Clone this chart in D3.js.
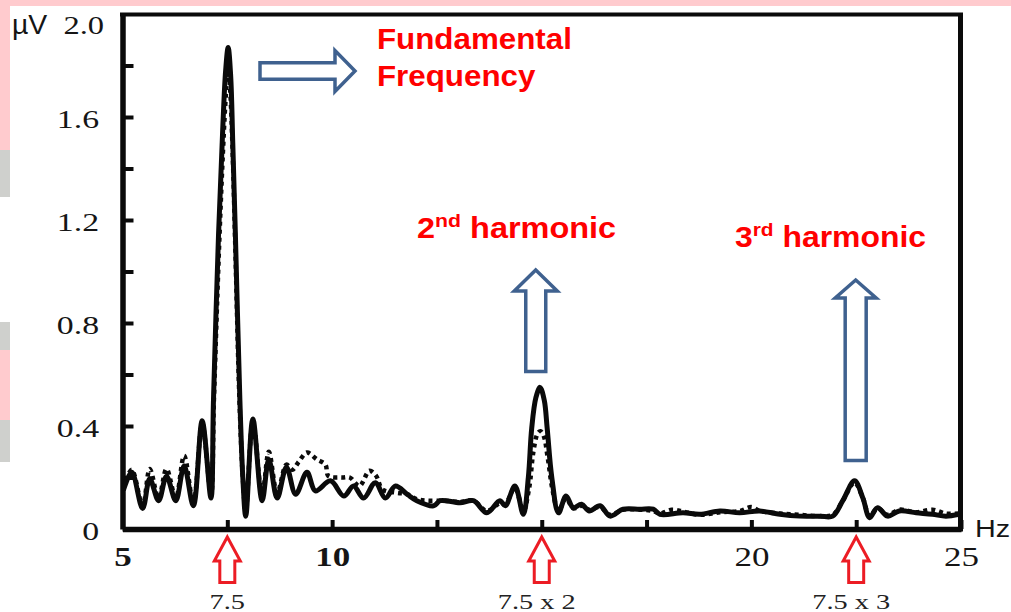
<!DOCTYPE html>
<html>
<head>
<meta charset="utf-8">
<script src="https://cdn.jsdelivr.net/npm/d3@7"></script>
<style>
body{margin:0;background:#fff;}
svg{display:block;}
</style>
</head>
<body>
<svg id="chart" width="1011" height="612"></svg>
<script>
// solid trace (Hz / µV)
var solidHz = [5.02, 5.22, 5.48, 5.65, 5.86, 6.05, 6.27, 6.47, 6.69, 6.90, 7.11, 7.17, 7.29, 7.39, 7.46, 7.52, 7.58, 7.63, 7.69, 7.80, 7.87, 7.94, 8.11, 8.33, 8.49, 8.69, 8.91, 9.13, 9.40, 9.60, 9.96, 10.28, 10.51, 10.75, 11.03, 11.27, 11.51, 11.79, 12.02, 12.42, 12.58, 13.05, 13.37, 13.69, 14.0, 14.13, 14.36, 14.56, 14.68, 14.76, 14.86, 14.96, 15.06, 15.13, 15.24, 15.40, 15.58, 15.75, 15.95, 16.13, 16.39, 16.63, 16.94, 17.34, 17.66, 17.82, 18.37, 18.77, 19.25, 19.72, 20.20, 20.68, 21.15, 21.63, 21.94, 22.18, 22.46, 22.66, 22.82, 23.01, 23.25, 23.53, 23.93, 24.32, 24.64, 24.96];
var solidUv = [0.15, 0.22, 0.08, 0.195, 0.11, 0.205, 0.11, 0.245, 0.09, 0.42, 0.12, 0.5, 1.14, 1.55, 1.78, 1.87, 1.76, 1.50, 1.16, 0.5, 0.2, 0.05, 0.427, 0.11, 0.27, 0.12, 0.24, 0.135, 0.22, 0.148, 0.187, 0.128, 0.167, 0.12, 0.18, 0.12, 0.167, 0.135, 0.11, 0.09, 0.11, 0.102, 0.11, 0.063, 0.11, 0.09, 0.167, 0.057, 0.2, 0.39, 0.51, 0.55, 0.50, 0.39, 0.2, 0.063, 0.128, 0.083, 0.096, 0.07, 0.09, 0.05, 0.077, 0.077, 0.077, 0.057, 0.063, 0.057, 0.07, 0.063, 0.07, 0.057, 0.05, 0.05, 0.05, 0.11, 0.187, 0.12, 0.044, 0.083, 0.05, 0.07, 0.063, 0.057, 0.05, 0.057];

// dotted trace
var dottedHz = [5.02, 5.22, 5.48, 5.65, 5.86, 6.05, 6.27, 6.47, 6.69, 6.90, 7.11, 7.18, 7.30, 7.40, 7.47, 7.52, 7.57, 7.63, 7.69, 7.79, 7.87, 7.94, 8.11, 8.33, 8.49, 8.69, 8.91, 9.05, 9.20, 9.40, 9.64, 9.84, 9.91, 10.23, 10.42, 10.65, 10.89, 11.05, 11.20, 11.53, 11.79, 12.02, 12.26, 12.65, 13.05, 13.37, 13.69, 14.0, 14.13, 14.36, 14.56, 14.70, 14.80, 14.90, 14.97, 15.05, 15.14, 15.26, 15.40, 15.58, 15.75, 15.95, 16.13, 16.39, 16.63, 16.94, 17.34, 17.66, 17.82, 18.10, 18.37, 18.77, 19.25, 19.72, 20.00, 20.20, 20.68, 21.15, 21.63, 21.94, 22.18, 22.46, 22.66, 22.82, 23.01, 23.25, 23.53, 23.93, 24.32, 24.64, 24.96];
var dottedUv = [0.16, 0.23, 0.09, 0.233, 0.12, 0.233, 0.12, 0.284, 0.10, 0.41, 0.13, 0.5, 1.08, 1.48, 1.70, 1.80, 1.70, 1.45, 1.10, 0.5, 0.2, 0.07, 0.42, 0.13, 0.30, 0.14, 0.25, 0.23, 0.26, 0.297, 0.27, 0.25, 0.206, 0.20, 0.20, 0.167, 0.226, 0.206, 0.154, 0.141, 0.135, 0.116, 0.11, 0.11, 0.105, 0.11, 0.07, 0.10, 0.097, 0.16, 0.07, 0.16, 0.30, 0.37, 0.38, 0.36, 0.28, 0.15, 0.07, 0.12, 0.08, 0.09, 0.075, 0.085, 0.055, 0.075, 0.075, 0.07, 0.06, 0.075, 0.068, 0.055, 0.065, 0.07, 0.085, 0.07, 0.06, 0.055, 0.05, 0.055, 0.11, 0.18, 0.12, 0.05, 0.08, 0.055, 0.075, 0.065, 0.075, 0.06, 0.06];

var yTicks = [0, 0.2, 0.4, 0.6, 0.8, 1.0, 1.2, 1.4, 1.6, 1.8];
var yLabels = ["0", "", "0.4", "", "0.8", "", "1.2", "", "1.6", ""];
var xTicks = [5, 7.5, 10, 12.5, 15, 17.5, 20, 22.5, 25];
var xLabels = ["5", "", "10", "", "", "", "20", "", "25"];
var xBold = [true, false, true, false, false, false, false, false, false];

var harmonics = [7.5, 15, 22.5];
var harmonicLabels = ["7.5", "7.5 x 2", "7.5 x 3"];

var svg = d3.select("#chart");
var serif = "'Liberation Serif','Times New Roman',serif";
var sans = "'Liberation Sans',Arial,sans-serif";
var ink = "#0a0a0a";

var x = d3.scaleLinear().domain([5, 25]).range([122.5, 961]);
var y = d3.scaleLinear().domain([0, 2]).range([529, 14]);

// slide background bits
svg.append("rect").attr("x", 0).attr("y", 0).attr("width", 1011).attr("height", 6).attr("fill", "#ffcbce");
var strips = [[0, 150, "#ffcbce"], [150, 197, "#cfd0cd"], [322, 350, "#cfd0cd"], [350, 420, "#ffcbce"], [420, 462, "#cfd0cd"]];
svg.selectAll(".strip").data(strips).enter().append("rect")
  .attr("class", "strip")
  .attr("x", 0).attr("y", d => d[0])
  .attr("width", 10).attr("height", d => d[1] - d[0])
  .attr("fill", d => d[2]);

// frame top + right
svg.append("line").attr("x1", 120).attr("x2", 963).attr("y1", y(2) + 0.5).attr("y2", y(2) + 0.5)
  .attr("stroke", ink).attr("stroke-width", 4);
svg.append("line").attr("x1", 960.5).attr("x2", 960.5).attr("y1", 13).attr("y2", 531.5)
  .attr("stroke", ink).attr("stroke-width", 5);

// y axis
var yAxis = svg.append("g")
  .attr("transform", "translate(" + x(5) + ",0)")
  .call(d3.axisLeft(y).tickValues(yTicks).tickSizeInner(-11).tickSizeOuter(0).tickPadding(22)
    .tickFormat((d, i) => yLabels[i]));
yAxis.select(".domain").attr("stroke", ink).attr("stroke-width", 5.5);
yAxis.selectAll(".tick line").attr("stroke", ink).attr("stroke-width", 4);
yAxis.selectAll(".tick text")
  .attr("font-family", serif).attr("font-size", 26).attr("fill", "#151515")
  .attr("x", -18).attr("y", 2)
  .attr("transform", "scale(1.3,1)");

// x axis
var xAxis = svg.append("g")
  .attr("transform", "translate(0," + y(0) + ")")
  .call(d3.axisBottom(x).tickValues(xTicks).tickSizeInner(-9).tickSizeOuter(0).tickPadding(17)
    .tickFormat((d, i) => xLabels[i]));
xAxis.select(".domain").attr("stroke", ink).attr("stroke-width", 5.5);
xAxis.selectAll(".tick line").attr("stroke", ink).attr("stroke-width", 4);
xAxis.selectAll(".tick text")
  .attr("font-family", serif).attr("font-size", 28).attr("fill", "#151515")
  .attr("font-weight", (d, i) => xBold[i] ? "bold" : "normal")
  .attr("transform", "scale(1.25,1)");

// axis units
function stretched(tx, ty, sx, txt, size, family, anchor) {
  return svg.append("text")
    .attr("transform", "translate(" + tx + "," + ty + ") scale(" + sx + ",1)")
    .attr("text-anchor", anchor || "start")
    .attr("font-family", family).attr("font-size", size).attr("fill", "#151515")
    .text(txt);
}
stretched(12, 34, 1.05, "µV", 27, sans);
stretched(104, 34, 1.3, "2.0", 25, serif, "end");
stretched(975, 537, 1.2, "Hz", 24, sans);

// traces
var line = d3.line().curve(d3.curveCatmullRom.alpha(0.5));
var solidPts = solidHz.map((f, i) => [x(f), y(solidUv[i])]);
var dottedPts = dottedHz.map((f, i) => [x(f), y(dottedUv[i])]);

svg.append("path")
  .attr("d", line(dottedPts))
  .attr("fill", "none").attr("stroke", ink).attr("stroke-width", 4.5)
  .attr("stroke-dasharray", "4,4");
svg.append("path")
  .attr("d", line(solidPts))
  .attr("fill", "none").attr("stroke", ink).attr("stroke-width", 5)
  .attr("stroke-linejoin", "round");

// red arrows under the harmonics
function upArrow(cx, tip, base, headHalf, shaftHalf, bottom) {
  return "M" + cx + "," + tip + "L" + (cx + headHalf) + "," + base + "L" + (cx + shaftHalf) + "," + base +
    "L" + (cx + shaftHalf) + "," + bottom + "L" + (cx - shaftHalf) + "," + bottom + "L" + (cx - shaftHalf) + "," + base +
    "L" + (cx - headHalf) + "," + base + "Z";
}
svg.selectAll(".harm").data(harmonics).enter().append("path")
  .attr("class", "harm")
  .attr("d", d => upArrow(x(d), 537, 561, 13, 7.5, 582.5))
  .attr("fill", "#fff").attr("stroke", "#ec1c24").attr("stroke-width", 3)
  .attr("stroke-linejoin", "miter");
svg.selectAll(".harmlbl").data(harmonics).enter().append("text")
  .attr("class", "harmlbl")
  .attr("transform", (d, i) => "translate(" + (x(d) - (i ? 5 : 0)) + ",609) scale(1.35,1)")
  .attr("text-anchor", "middle")
  .attr("font-family", serif).attr("font-size", 21).attr("fill", "#222")
  .text((d, i) => harmonicLabels[i]);

// blue arrows
var blue = "#3f618f";
svg.append("path")
  .attr("d", "M260,62.7L335,62.7L335,50.5L355,71L335,91.5L335,79.3L260,79.3Z")
  .attr("fill", "#fff").attr("stroke", blue).attr("stroke-width", 3.5);
svg.append("path")
  .attr("d", upArrow(x(15) - 6, 270, 291, 21.5, 10, 371.5))
  .attr("fill", "#fff").attr("stroke", blue).attr("stroke-width", 3.5);
svg.append("path")
  .attr("d", upArrow(x(22.5) - 0.5, 280, 298, 20.5, 10.5, 460.5))
  .attr("fill", "#fff").attr("stroke", blue).attr("stroke-width", 3.5);

// red annotations
var red = "#ff0000";
function note(tx, ty, sx) {
  return svg.append("text")
    .attr("transform", "translate(" + tx + "," + ty + ") scale(" + sx + ",1)")
    .attr("font-family", sans).attr("font-weight", "bold").attr("font-size", 29).attr("fill", red);
}
note(377, 49, 1.08).text("Fundamental");
note(377, 86, 1.08).text("Frequency");

var h2 = note(417, 238, 1.12);
h2.append("tspan").text("2");
h2.append("tspan").attr("font-size", 19).attr("dy", -11).text("nd");
h2.append("tspan").attr("dy", 11).text(" harmonic");

var h3 = note(735, 247, 1.1);
h3.append("tspan").text("3");
h3.append("tspan").attr("font-size", 19).attr("dy", -11).text("rd");
h3.append("tspan").attr("dy", 11).text(" harmonic");
</script>
</body>
</html>
